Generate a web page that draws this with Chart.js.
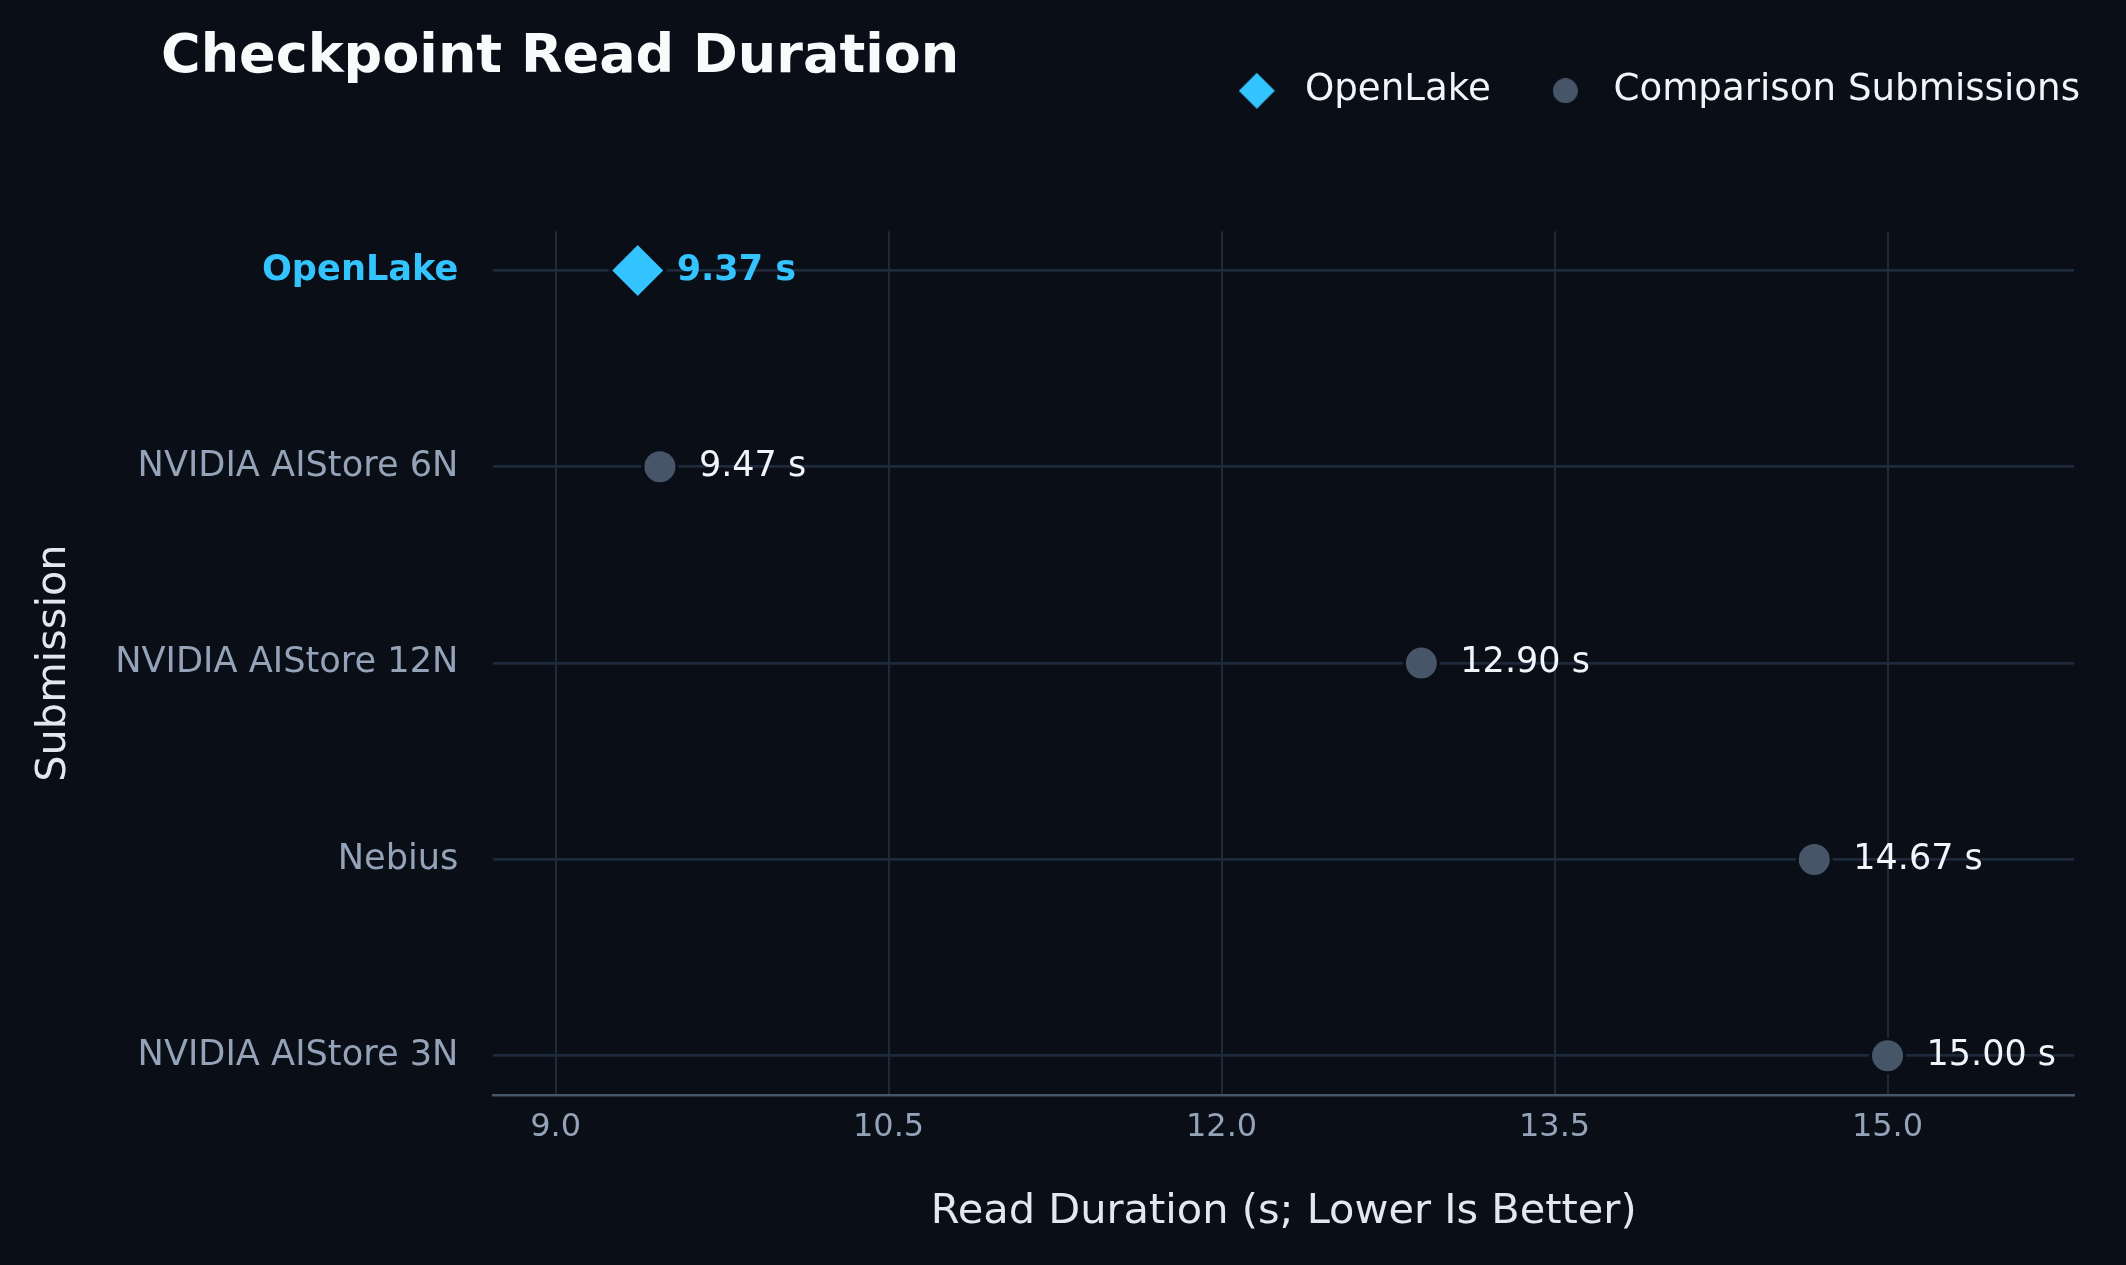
<!DOCTYPE html>
<html>
<head>
<meta charset="utf-8">
<title>Checkpoint Read Duration</title>
<script src="https://cdn.jsdelivr.net/npm/chart.js@4.4.1/dist/chart.umd.min.js"></script>
<style>
  html, body { margin: 0; padding: 0; background: #0a0e17; }
  #wrap { position: relative; width: 2126px; height: 1265px; }
</style>
</head>
<body>
<div id="wrap"><canvas id="chart"></canvas></div>
<script>
// Values
const submissions = ['OpenLake', 'NVIDIA AIStore 6N', 'NVIDIA AIStore 12N', 'Nebius', 'NVIDIA AIStore 3N'];
const readSeconds = [9.37, 9.47, 12.90, 14.67, 15.00];
const xTicks = [9.0, 10.5, 12.0, 13.5, 15.0];
const highlightName = 'OpenLake';
const seriesNames = ['OpenLake', 'Comparison Submissions'];
const chartTitle = 'Checkpoint Read Duration';
const xTitle = 'Read Duration (s; Lower Is Better)';
const yTitle = 'Submission';

const BG = '#0a0e17';
const CYAN = '#33c3ff';
const SLATE = '#475569';
const GRID = '#1e293b';
const FONT = "'DejaVu Sans', sans-serif";

// split into the highlighted submission and the rest
const highlightPoints = [];
const otherPoints = [];
submissions.forEach((name, i) => {
  const pt = { x: readSeconds[i], y: i };
  if (name === highlightName) highlightPoints.push(pt);
  else otherPoints.push(pt);
});

// tick context may come without a tick while the scale is measured
const isHighlightTick = c => !!(c && c.tick) && submissions[c.tick.value] === highlightName;

// legend icons (drawn as small canvases so each keeps its own size)
function legendIcon(shape, size, color) {
  const c = document.createElement('canvas');
  c.width = size;
  c.height = size;
  const g = c.getContext('2d');
  g.fillStyle = color;
  g.beginPath();
  if (shape === 'diamond') {
    g.moveTo(size / 2, 0);
    g.lineTo(size, size / 2);
    g.lineTo(size / 2, size);
    g.lineTo(0, size / 2);
  } else {
    g.arc(size / 2, size / 2, size / 2, 0, Math.PI * 2);
  }
  g.closePath();
  g.fill();
  return c;
}
const icons = [legendIcon('diamond', 36, CYAN), legendIcon('circle', 25, SLATE)];

// value text to the right of each marker
const valueLabels = {
  id: 'valueLabels',
  afterDatasetsDraw(chart) {
    const ctx = chart.ctx;
    ctx.save();
    ctx.textAlign = 'left';
    ctx.textBaseline = 'middle';
    chart.data.datasets.forEach((ds, di) => {
      const meta = chart.getDatasetMeta(di);
      meta.data.forEach((el, i) => {
        const hl = di === 0;
        ctx.font = (hl ? 'bold ' : '') + '35px ' + FONT;
        ctx.fillStyle = hl ? CYAN : '#f1f5f9';
        ctx.fillText(ds.data[i].x.toFixed(2) + ' s', el.x + 39, el.y);
      });
    });
    ctx.restore();
  }
};

// left-aligned figure title
const figureTitle = {
  id: 'figureTitle',
  afterDraw(chart) {
    const ctx = chart.ctx;
    ctx.save();
    ctx.font = 'bold 54px ' + FONT;
    ctx.fillStyle = '#f8fafc';
    ctx.textAlign = 'left';
    ctx.textBaseline = 'alphabetic';
    ctx.fillText(chartTitle, 161, 72);
    ctx.restore();
  }
};

// invisible scales used only to reserve space
function spacer(position, size) {
  return {
    type: 'linear',
    position: position,
    display: true,
    grid: { display: false },
    ticks: { display: false },
    border: { display: false },
    afterFit: s => {
      if (position === 'top') s.height = size;
      else s.width = size;
    }
  };
}

new Chart(document.getElementById('chart'), {
  type: 'scatter',
  data: {
    datasets: [
      {
        label: seriesNames[0],
        data: highlightPoints,
        pointStyle: 'rectRot',
        pointRadius: 27.5,
        pointHoverRadius: 27.5,
        backgroundColor: CYAN,
        borderColor: BG,
        borderWidth: 3
      },
      {
        label: seriesNames[1],
        data: otherPoints,
        pointStyle: 'circle',
        pointRadius: 17,
        pointHoverRadius: 17,
        backgroundColor: SLATE,
        borderColor: BG,
        borderWidth: 3
      }
    ]
  },
  options: {
    responsive: true,
    maintainAspectRatio: false,
    devicePixelRatio: 1,
    animation: false,
    events: [],
    layout: { padding: { top: 27.2, right: 1, bottom: 27.4, left: 0 } },
    plugins: {
      tooltip: { enabled: false },
      title: { display: false },
      legend: {
        display: true,
        position: 'top',
        align: 'end',
        labels: {
          usePointStyle: true,
          pointStyleWidth: 59,
          padding: 45,
          color: '#f1f5f9',
          font: { family: FONT, size: 37.2 },
          generateLabels: chart =>
            Chart.defaults.plugins.legend.labels.generateLabels(chart).map((item, i) =>
              Object.assign(item, { pointStyle: icons[i] }))
        }
      }
    },
    scales: {
      x: {
        type: 'linear',
        position: 'bottom',
        min: 8.72,
        max: 15.84,
        afterBuildTicks: s => { s.ticks = xTicks.map(v => ({ value: v })); },
        grid: { color: GRID, lineWidth: 2, drawTicks: false },
        border: { display: true, color: SLATE, width: 2.5 },
        ticks: {
          color: '#94a3b8',
          font: { family: FONT, size: 32 },
          padding: 13,
          callback: v => Number(v).toFixed(1)
        },
        title: {
          display: true,
          text: xTitle,
          color: '#e2e8f0',
          font: { family: FONT, size: 41.5 },
          padding: { top: 28.4, bottom: 0 }
        }
      },
      y: {
        type: 'linear',
        position: 'left',
        min: -0.2,
        max: 4.2,
        reverse: true,
        afterBuildTicks: s => { s.ticks = submissions.map((_, i) => ({ value: i })); },
        grid: { color: GRID, lineWidth: 2.7, drawTicks: false },
        border: { display: false },
        ticks: {
          padding: 35,
          color: c => isHighlightTick(c) ? CYAN : '#94a3b8',
          font: c => ({
            family: FONT,
            size: 35.2,
            weight: isHighlightTick(c) ? 'bold' : 'normal'
          }),
          callback: v => submissions[v]
        },
        title: {
          display: true,
          text: yTitle,
          color: '#e2e8f0',
          font: { family: FONT, size: 41.5 },
          padding: { top: 29, bottom: 1.4 }
        }
      },
      padTop: spacer('top', 111.8),
      padRight: spacer('right', 51)
    }
  },
  plugins: [valueLabels, figureTitle]
});
</script>
</body>
</html>
